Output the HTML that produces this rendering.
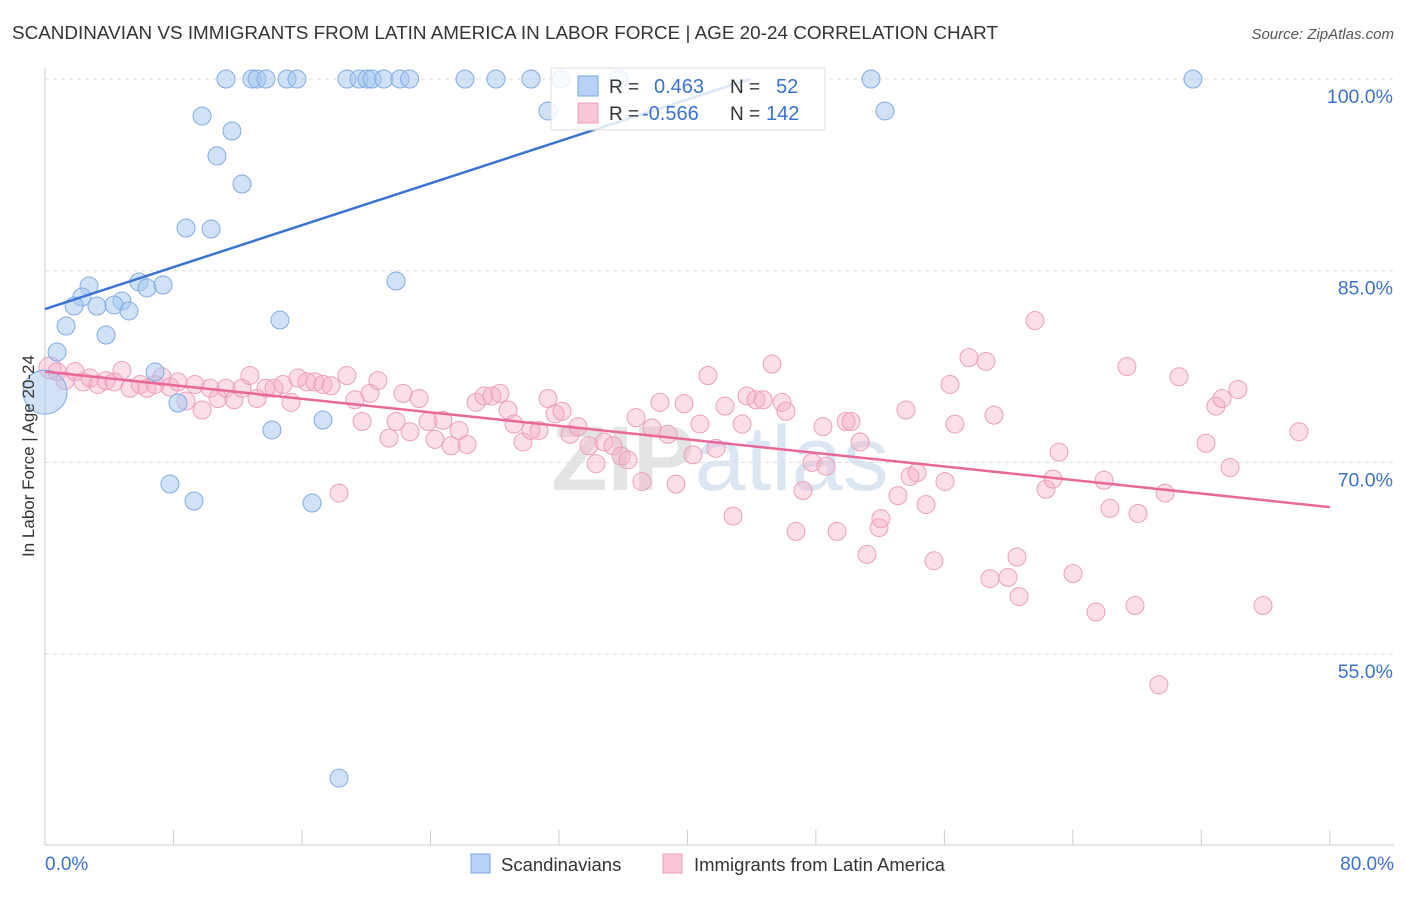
<!DOCTYPE html>
<html><head><meta charset="utf-8">
<style>
body{margin:0;background:#fff;font-family:"Liberation Sans",sans-serif;}
svg text{font-family:"Liberation Sans",sans-serif;}
</style></head>
<body>
<svg id="chart" width="1406" height="892" xmlns="http://www.w3.org/2000/svg">
<text x="12" y="39" font-size="18" fill="#333" textLength="986" lengthAdjust="spacingAndGlyphs">SCANDINAVIAN VS IMMIGRANTS FROM LATIN AMERICA IN LABOR FORCE | AGE 20-24 CORRELATION CHART</text>
<text x="1394" y="39" font-size="15" fill="#555" font-style="italic" text-anchor="end">Source: ZipAtlas.com</text>
<text x="720" y="490" font-size="92" fill="#e4e4e4" text-anchor="middle" font-weight="bold">ZIP<tspan fill="#dbe6f3" font-weight="normal">atlas</tspan></text>
<g id="grid"></g>
<g id="axes"></g>
<g id="pts"></g>
<g id="trends"></g>
<text transform="translate(34,456) rotate(-90)" font-size="17" fill="#333" text-anchor="middle">In Labor Force | Age 20-24</text>
<g>
<rect x="551" y="68" width="274" height="62" fill="#fff" fill-opacity="0.82" stroke="#ddd"/>
<rect x="578" y="76" width="20" height="20" fill="#b8d2f5" stroke="#7aa7e3"/>
<rect x="578" y="103" width="20" height="20" fill="#f9c6d6" stroke="#ee9db8"/>
<text x="609" y="93" font-size="19" fill="#333">R =</text>
<text x="654" y="93" font-size="20" fill="#3a72d0">0.463</text>
<text x="730" y="93" font-size="19" fill="#333">N =</text>
<text x="776" y="93" font-size="20" fill="#3a72d0">52</text>
<text x="609" y="120" font-size="19" fill="#333">R =</text>
<text x="642" y="120" font-size="20" fill="#3a72d0">-0.566</text>
<text x="730" y="120" font-size="19" fill="#333">N =</text>
<text x="766" y="120" font-size="20" fill="#3a72d0">142</text>
</g>
<g>
<rect x="471" y="854" width="19" height="19" fill="#b8d2f5" stroke="#7aa7e3"/>
<text x="501" y="871" font-size="18.5" fill="#333">Scandinavians</text>
<rect x="663" y="854" width="19" height="19" fill="#f9c6d6" stroke="#ee9db8"/>
<text x="694" y="871" font-size="18.5" fill="#333">Immigrants from Latin America</text>
</g>
</svg>
<script>
const blueX=[11.27,12.89,13.2,13.76,15.07,15.69,18.8,19.55,20.05,20.36,21.1,22.1,22.7,26.15,28.08,30.26,32.13,35.74,51.43,71.48,31.32,52.3,9.78,11.64,10.71,12.27,8.78,10.34,21.86,5.85,2.74,6.35,7.35,2.3,1.81,3.24,4.79,4.3,5.23,14.63,1.31,3.8,0.75,6.85,0,8.28,14.13,17.31,7.78,9.28,16.63,18.31];
const blueY=[100,100,100,100,100,100,100,100,100,100,100,100,100,100,100,100,100,100,100,100,97.5,97.5,97.1,95.93,93.98,91.78,88.34,88.26,84.19,84.12,83.8,83.65,83.88,82.94,82.24,82.24,82.63,82.32,81.85,81.14,80.67,79.97,78.64,77.07,75.5,74.65,72.54,73.32,68.31,66.98,66.82,45.3];
const pinkX=[0.31,0.75,1.25,1.87,2.37,2.8,3.3,3.8,4.3,4.79,5.29,5.92,6.35,6.85,7.29,7.78,8.28,8.78,9.34,9.78,10.28,10.77,11.27,11.77,12.27,12.76,13.2,13.76,14.26,14.82,15.32,15.75,16.31,16.81,17.31,17.81,18.31,18.8,19.3,19.74,20.24,20.73,21.42,21.86,22.29,22.73,23.29,23.85,24.28,24.78,25.28,25.78,26.28,26.84,27.33,27.83,28.33,28.83,29.2,29.76,30.26,30.76,31.32,31.76,32.19,32.69,33.19,33.87,34.31,34.81,35.37,35.87,36.3,36.8,37.17,37.8,38.29,38.79,39.29,39.79,40.35,40.78,41.28,41.78,42.34,42.84,43.4,43.71,44.27,44.71,45.89,46.14,45.27,46.76,47.2,47.76,48.44,48.63,49.32,49.88,50.19,50.75,51.18,51.93,52.05,53.11,53.61,53.86,54.3,54.86,55.35,56.04,56.35,56.66,57.53,58.59,58.84,59.09,59.96,60.52,60.65,61.64,62.33,62.76,63.14,64.01,65.44,65.94,66.31,67.37,67.87,68.06,69.36,69.74,70.61,72.29,72.91,73.29,73.79,74.28,75.84,78.08];
const pinkY=[77.4,77.1,76.4,77.1,76.3,76.6,76.1,76.4,76.3,77.2,75.8,76.1,75.8,76.1,76.7,75.9,76.3,74.8,76.1,74.1,75.8,75.0,75.8,74.9,75.8,76.8,75.0,75.8,75.8,76.1,74.7,76.6,76.3,76.3,76.1,76.0,67.6,76.8,74.9,73.2,75.4,76.4,71.9,73.2,75.4,72.4,75.0,73.2,71.8,73.3,71.3,72.5,71.4,74.7,75.2,75.2,75.4,74.1,73.0,71.6,72.5,72.5,75.0,73.8,74.0,72.2,72.8,71.3,69.9,71.6,71.3,70.5,70.2,73.5,68.5,72.7,74.7,72.2,68.3,74.6,70.6,73.0,76.8,71.1,74.4,65.8,73.0,75.2,74.9,74.9,74.7,74.0,77.7,64.6,67.8,70.0,72.8,69.7,64.6,73.2,73.2,71.6,62.8,64.9,65.6,67.4,74.1,68.9,69.2,66.7,62.3,68.5,76.1,73.0,78.2,77.9,60.9,73.7,61.0,62.6,59.5,81.1,67.9,68.7,70.8,61.3,58.3,68.6,66.4,77.5,58.8,66.0,52.6,67.6,76.7,71.5,74.4,75.0,69.6,75.7,58.8,72.4];
const blueTrend=[82.0,100.0];
const blueTrendX=[0,43.9];
const pinkTrend=[77.1,66.5];
const pinkTrendX=[0,80];
const yTicks=[100,85,70,55];
const yTickLabels=["100.0%","85.0%","70.0%","55.0%"];
const xTicks=[0,8,16,24,32,40,48,56,64,72,80];

const NS="http://www.w3.org/2000/svg";
const sx=v=>45+v*16.06;
const sy=v=>79+(100-v)*12.78;
function mk(tag,attrs,parent){const e=document.createElementNS(NS,tag);for(const k in attrs)e.setAttribute(k,attrs[k]);parent.appendChild(e);return e;}
const grid=document.getElementById('grid'),axes=document.getElementById('axes'),pts=document.getElementById('pts'),tr=document.getElementById('trends');
yTicks.forEach((t,i)=>{
  const l=mk('line',{x1:45,x2:1394,y1:sy(t),y2:sy(t),stroke:'#dcdcdc','stroke-dasharray':'4,4'},grid);
  
  
  const tx=mk('text',{x:1393,y:sy(t)+24,'font-size':19.5,fill:'#3a72d0','text-anchor':'end'},axes);
  tx.textContent=yTickLabels[i];
  
  
});
const ya=mk('line',{x1:45,x2:45,y1:68,y2:845,stroke:'#ccc'},axes);


const xa=mk('line',{x1:45,x2:1394,y1:845,y2:845,stroke:'#ccc'},axes);


xTicks.forEach(t=>{
  const l=mk('line',{x1:sx(t),x2:sx(t),y1:830,y2:845,stroke:'#ccc'},axes);
  
  
});
const xl0=mk('text',{x:45,y:870,'font-size':19,fill:'#3a72d0'},axes);
xl0.textContent='0.0%';


const xl1=mk('text',{x:1394,y:870,'font-size':19,fill:'#3a72d0','text-anchor':'end'},axes);
xl1.textContent='80.0%';



pinkX.forEach((x,i)=>{
  const c=mk('circle',{cx:sx(x),cy:sy(pinkY[i]),r:i===0?11:9,fill:'rgba(246,172,197,0.4)',stroke:'#eba0bb','stroke-width':1},pts);
  
  
});
blueX.forEach((x,i)=>{
  const c=mk('circle',{cx:sx(x),cy:sy(blueY[i]),r:x===0?22:9,fill:'rgba(164,197,240,0.5)',stroke:'#82abe2','stroke-width':1},pts);
  
  
});
const bl=mk('line',{x1:sx(blueTrendX[0]),y1:sy(blueTrend[0]),x2:sx(blueTrendX[1]),y2:sy(blueTrend[1]),stroke:'#3a74d4','stroke-width':2.5},tr);


const pl=mk('line',{x1:sx(pinkTrendX[0]),y1:sy(pinkTrend[0]),x2:sx(pinkTrendX[1]),y2:sy(pinkTrend[1]),stroke:'#e8689a','stroke-width':2.5},tr);


</script>
</body></html>
